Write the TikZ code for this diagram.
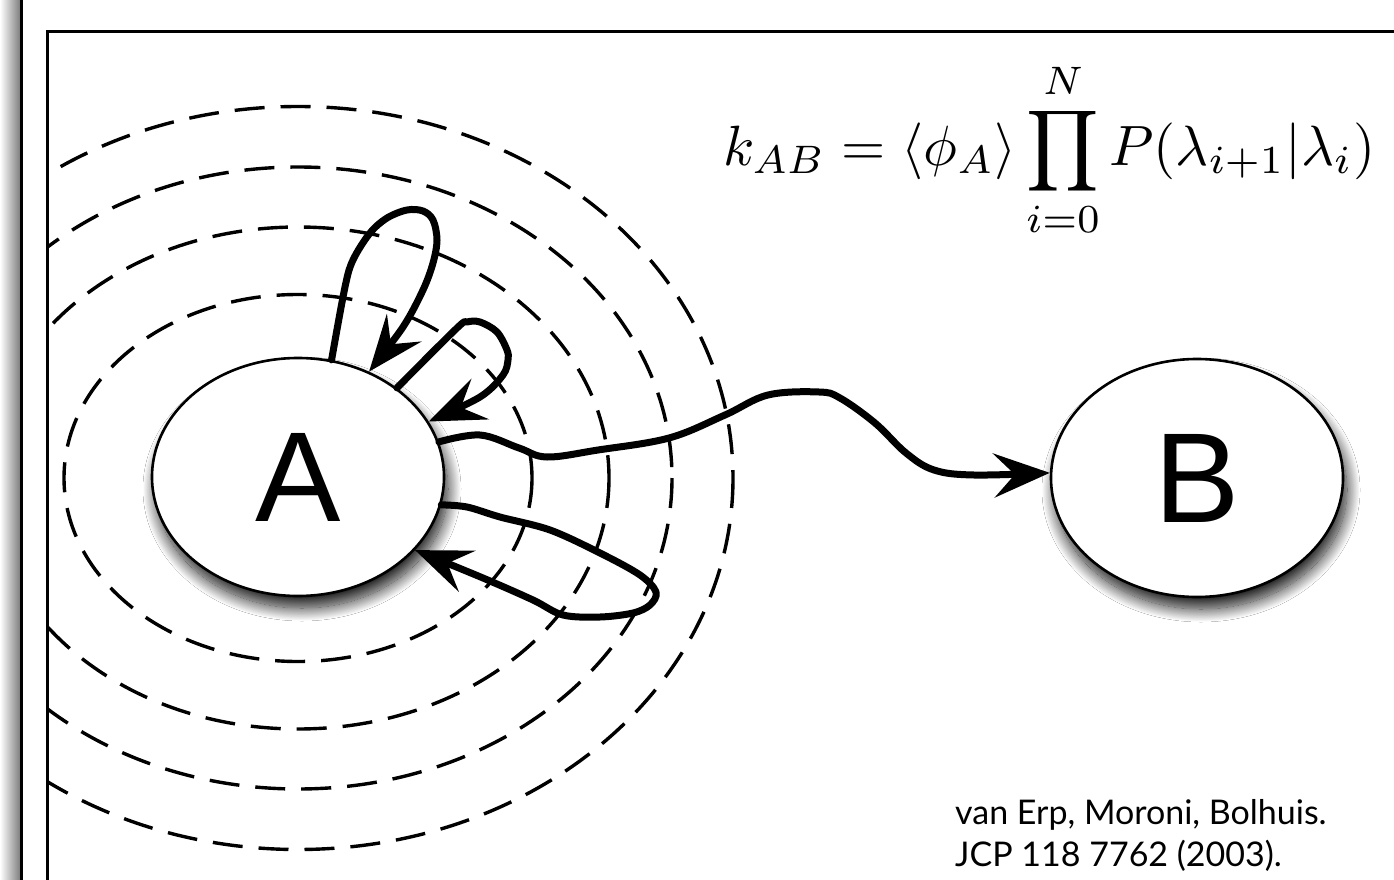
\documentclass[tikz,border=0pt]{standalone}
\usepackage{fontspec}
\newfontfamily\nodefont{Liberation Sans}
\newfontfamily\citefont{Lato}
\usetikzlibrary{shapes.geometric,arrows.meta,shadows.blur}
\begin{document}
\begin{tikzpicture}[x=1pt,y=-1pt,
  state/.style={ellipse, draw, line width=2.6pt, fill=white,
    minimum width=292pt, minimum height=238pt, inner sep=0pt,
    font=\nodefont\fontsize{128}{128}\selectfont,
    blur shadow={shadow xshift=4pt, shadow yshift=-12pt, shadow blur radius=13pt,
      shadow blur steps=24, shadow opacity=90}},
  level/.style={line width=3.4pt, dash pattern=on 30pt off 16pt},
  traj/.style={line width=7pt, line join=round, line cap=round,
    -{Stealth[length=56pt,width=44pt,inset=21pt]}},
  frameline/.style={line width=3pt},
  reftext/.style={anchor=base west, inner sep=0pt, font=\citefont\fontsize{34}{46}\selectfont}
]
\useasboundingbox (0,0) rectangle (1394,880);
\fill[white] (0,0) rectangle (1394,880);
% outer frame
\shade[left color=white, right color=black!50] (0,0) rectangle (20,880);
\draw[line width=3.4pt] (21.5,0) -- (21.5,880);
\draw[frameline] (47,880) -- (47,32) -- (1394,32);
% level sets
\begin{scope}
  \clip (48.5,33.5) rectangle (1394,880);
  \draw[level] (298,478) ellipse [x radius=234, y radius=183.5];
  \draw[level] (298,478) ellipse [x radius=311, y radius=251];
  \draw[level] (298,478) ellipse [x radius=374, y radius=311];
  \draw[level] (298,478) ellipse [x radius=435, y radius=371.5];
\end{scope}
% states
\node[state] (A) at (298,477) {A};
\node[state] (B) at (1197,478) {B};
% trajectories
\draw[traj] plot[smooth, tension=0.55] coordinates {(A.74) (345,287) (353,260) (370,233) (387,218) (407,210) (423,211) (433,220) (437,240) (433,263) (423,290) (403,327) (A.56)};
\draw[traj] plot[smooth, tension=0.55] coordinates {(A.42) (457,328) (467,322) (480,322) (497,332) (507,350) (508,360) (503,375) (480,397) (A.23)};
\draw[traj] plot[smooth, tension=0.6] coordinates {(A.14) (480,435) (519,448) (547,457) (598,450) (669,438) (725,415) (768,395) (819,392) (840,398) (875,423) (906,453) (934,470) (974,475) (B.178)};
\draw[traj] plot[smooth, tension=0.55] coordinates {(A.-11) (467,507) (500,517) (550,530) (600,553) (640,575) (656,592) (650,605) (633,613) (600,617) (563,615) (533,600) (483,578) (A.-32)};
% formula
\node[anchor=base west, inner sep=0pt, scale=5.68] (rate) at (722,165)
  {$\displaystyle k_{AB} = \langle\phi_A\rangle \prod_{i=0}^{N} P(\lambda_{i+1}|\lambda_i)$};
% reference
\node[reftext] (ref1) at (955,824) {van Erp, Moroni, Bolhuis.};
\node[reftext] (ref2) at (955,866) {JCP 118 7762 (2003).};
\end{tikzpicture}
\end{document}
